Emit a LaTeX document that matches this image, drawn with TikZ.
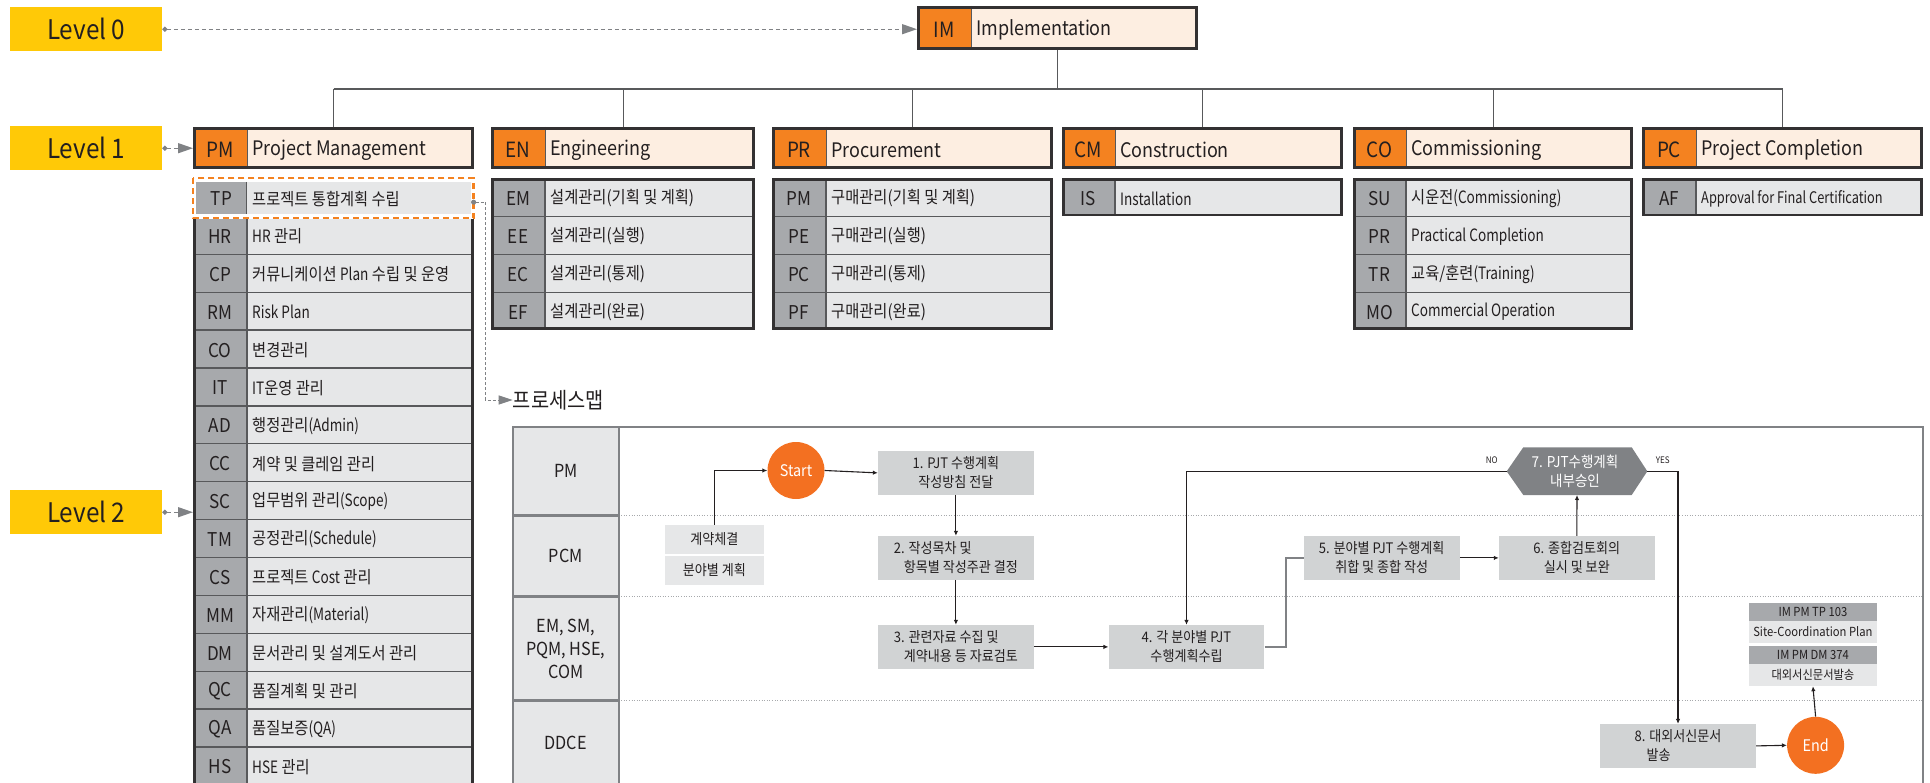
\documentclass[tikz,border=0pt]{standalone}
\usepackage{fontspec}
\setmainfont{Noto Sans CJK KR}[FakeStretch=0.9]
\newfontfamily\narrowlat{Noto Sans CJK KR}[FakeStretch=0.8]
\usetikzlibrary{arrows.meta}

\definecolor{lvlyel}{HTML}{FFC907}
\definecolor{orng}{HTML}{F48220}
\definecolor{peach}{HTML}{FDEEE1}
\definecolor{ink}{HTML}{231F20}
\definecolor{frm}{HTML}{333132}
\definecolor{sep}{HTML}{58595B}
\definecolor{codegray}{HTML}{A7A9AC}
\definecolor{rowgray}{HTML}{E6E7E8}
\definecolor{boxgray}{HTML}{D1D3D4}
\definecolor{midgray}{HTML}{808285}
\definecolor{dotgray}{HTML}{A7A9AC}
\definecolor{startorng}{HTML}{F37021}

\newcommand\fsz[2]{\fontsize{#1}{#2}\selectfont}
% narrower face for Latin runs inside list entries
\newcommand\nl[1]{{\narrowlat #1}}

\tikzset{
  lvl/.style={fill=lvlyel, inner sep=0, minimum width=152pt, minimum height=44pt,
    font=\fsz{27}{32}, text=ink},
  lvlarrow/.style={midgray, line width=1.3pt, dash pattern=on 4pt off 3pt,
    {Circle[length=5pt]}-{Triangle[length=15pt,width=10pt]}},
  bus/.style={sep, line width=1.4pt},
  codetext/.style={inner sep=0, font=\fsz{21}{25}, text=ink},
  ttltext/.style={anchor=west, inner sep=0, font=\fsz{20}{24}, text=ink},
  itemcode/.style={inner sep=0, font=\fsz{19}{23}, text=ink},
  itemtext/.style={anchor=west, inner sep=0, font=\fsz{17}{21}, text=ink},
  lanelabel/.style={inner sep=0, align=center, font=\fsz{18}{23}, text=ink},
  fbox/.style={fill=boxgray, inner sep=0, minimum width=155.7pt, minimum height=43.7pt,
    align=center, font=\fsz{14.5}{19}, text=ink},
  smallbox/.style={fill=rowgray, inner sep=0, minimum width=98.5pt, minimum height=28.7pt,
    font=\fsz{14.5}{18}, text=ink},
  terminal/.style={circle, fill=startorng, inner sep=0, minimum size=57pt,
    text=white, font=\fsz{16}{20}},
  flow/.style={ink, line width=1.1pt, -{Latex[length=5pt,width=4.5pt]}},
  glink/.style={midgray, line width=2pt},
  dochead/.style={fill=codegray, inner sep=0, minimum width=127.7pt, font=\fsz{12.5}{15}, text=ink},
  docbody/.style={fill=rowgray, inner sep=0, minimum width=127.7pt, font=\fsz{12.5}{15}, text=ink},
  tiny/.style={inner sep=0, font=\fsz{9}{11}, text=ink},
}

% title bar of a level-1 category
\newcommand\category[6]{%
  \fill[peach] (#2,127) rectangle (#3,169);
  \fill[orng] (#2,127) rectangle (#4,169);
  \draw[sep, line width=1pt] (#4,127) -- (#4,169);
  \draw[frm, line width=2.8pt] ({#2+1.4},128.4) rectangle ({#3-1.4},167.6);
  \node[inner sep=0, minimum width={(#3-#2)*1pt}, minimum height=42pt, anchor=north west] (#1) at (#2,127) {};
  \node[codetext] (#1-code) at ({(#2+#4)/2},150) {#5};
  \node[ttltext] (#1-title) at ({#4+5},150) {#6};
}

% level-2 list under a category: name, left, right, divider, rows, first index, items
\newcommand\itemlist[7]{%
  \fill[rowgray] (#2,178.5) rectangle (#3,{178.5+#5*37.9});
  \fill[codegray] (#2,178.5) rectangle (#4,{178.5+#5*37.9});
  \foreach \cd/\tx [count=\i from #6] in {#7}{%
    \ifnum\i>0 \draw[sep, line width=1.3pt] (#2,{178.5+\i*37.9}) -- (#3,{178.5+\i*37.9});\fi
    \node[itemcode] (#1-c\i) at ({(#2+#4)/2},{179.5+(\i+0.5)*37.9}) {\cd};
    \node[itemtext] (#1-t\i) at ({#4+5},{179.5+(\i+0.5)*37.9}) {\tx};
  }
  \draw[sep, line width=1.3pt] (#4,178.5) -- (#4,{178.5+#5*37.9});
  \draw[frm, line width=2.8pt] ({#2+1.4},179.9) rectangle ({#3-1.4},{177.1+#5*37.9});
  \node[inner sep=0, minimum width={(#3-#2)*1pt}, minimum height={#5*37.9*1pt}, anchor=north west] (#1) at (#2,178.5) {};
}

\begin{document}
\begin{tikzpicture}[x=1pt,y=-1pt]
\useasboundingbox (0,0) rectangle (1930,783);
\clip (0,0) rectangle (1930,783);

% ---------- level markers ----------
\node[lvl, anchor=north west] (L0) at (10,7) {Level 0};
\node[lvl, anchor=north west] (L1) at (10,126) {Level 1};
\node[lvl, anchor=north west] (L2) at (10,490) {Level 2};

% ---------- level 0 ----------
\fill[peach] (917,6) rectangle (1198,50);
\fill[orng] (917,6) rectangle (971,50);
\draw[sep, line width=1pt] (971,6) -- (971,50);
\draw[frm, line width=2.8pt] (918.4,7.4) rectangle (1196.6,48.6);
\node[inner sep=0, minimum width=281pt, minimum height=44pt, anchor=north west] (IM) at (917,6) {};
\node[codetext] (IM-code) at (944,29.5) {IM};
\node[ttltext] (IM-title) at (976,29.5) {Implementation};

% ---------- level 1 ----------
\category{PM}{193}{474}{247}{PM}{Project Management}
\category{EN}{491}{755}{545}{EN}{Engineering}
\category{PR}{772}{1053}{826}{PR}{Procurement}
\category{CM}{1062}{1343}{1115}{CM}{Construction}
\category{CO}{1353}{1633}{1406}{CO}{Commissioning}
\category{PC}{1642}{1923}{1696}{PC}{Project Completion}

% tree connectors
\coordinate (busy) at (0,89);
\draw[bus] (IM.south) -- (IM.south |- busy);
\draw[bus] (PM.north |- busy) -- (PC.north |- busy);
\foreach \n in {PM,EN,PR,CM,CO,PC} \draw[bus] (\n.north |- busy) -- (\n.north);

% ---------- level 2 ----------
\itemlist{PMl}{193}{474}{247}{17}{1}{HR/{\nl{HR} 관리}, CP/{커뮤니케이션 \nl{Plan} 수립 및 운영}, RM/{\nl{Risk Plan}}, CO/변경관리,
  IT/{\nl{IT}운영 관리}, AD/{행정관리\nl{(Admin)}}, CC/계약 및 클레임 관리, SC/{업무범위 관리\nl{(Scope)}},
  TM/{공정관리\nl{(Schedule)}}, CS/{프로젝트 \nl{Cost} 관리}, MM/{자재관리\nl{(Material)}},
  DM/문서관리 및 설계도서 관리, QC/품질계획 및 관리, QA/{품질보증\nl{(QA)}}, HS/{\nl{HSE} 관리}}
\itemlist{ENl}{491}{755}{545}{4}{0}{EM/설계관리(기획 및 계획), EE/설계관리(실행), EC/설계관리(통제), EF/설계관리(완료)}
\itemlist{PRl}{772}{1053}{826}{4}{0}{PM/구매관리(기획 및 계획), PE/구매관리(실행), PC/구매관리(통제), PF/구매관리(완료)}
\itemlist{CMl}{1062}{1343}{1115}{1}{0}{IS/{\nl{Installation}}}
\itemlist{COl}{1353}{1633}{1406}{4}{0}{SU/{시운전\nl{(Commissioning)}}, PR/{\nl{Practical Completion}},
  TR/{교육/훈련\nl{(Training)}}, MO/{\nl{Commercial Operation}}}
\itemlist{PCl}{1642}{1923}{1696}{1}{0}{AF/{\fsz{16}{19}\nl{Approval for Final Certification}}}

% highlighted first row of the PM list
\fill[white] (191.7,176.7) rectangle (475,219.3);
\fill[rowgray] (196,182) rectangle (470.7,214);
\fill[codegray] (196,182) rectangle (246.7,214);
\draw[sep, line width=1.3pt] (246.7,182) -- (246.7,214);
\node[inner sep=0, minimum width=274.7pt, minimum height=32pt, anchor=north west] (TProw) at (196,182) {};
\node[itemcode] (TP-c) at (221.3,199) {TP};
\node[itemtext] (TP-t) at (252,199) {프로젝트 통합계획 수립};
\draw[orng, line width=2.5pt, dash pattern=on 6pt off 4pt] (193,178) rectangle (473.7,218);

% level pointers
\draw[lvlarrow] (L0.east) -- (L0.east -| IM.west);
\draw[lvlarrow] (L1.east) -- (L1.east -| PM.west);
\draw[lvlarrow] (L2.east) -- (L2.east -| PMl.west);

% ---------- process map ----------
\node[anchor=west, inner sep=0, font=\fsz{22}{26}, text=ink] (pmap) at (512.7,400) {프로세스맵};
\draw[midgray, line width=1pt, dash pattern=on 3pt off 2pt,
  {Circle[length=5pt]}-{Triangle[length=14pt,width=9pt]}]
  ([yshift=-4pt]TProw.east) -- ++(14.3,0) |- (pmap.west);

% swimlane frame
\fill[rowgray] (513,426.7) rectangle (618.5,792);
\foreach \yy in {515.7,596.7,700.7}{
  \draw[midgray, line width=2.5pt] (513,\yy) -- (618.5,\yy);
  \draw[dotgray, line width=1pt, dash pattern=on 1pt off 1.6pt] (618.5,\yy) -- (1922.6,\yy);
}
\draw[midgray, line width=2pt] (618.5,426.7) -- (618.5,792);
\draw[midgray, line width=2pt] (513,426.7) rectangle (1922.6,792);

\node[lanelabel] (lane1) at (565.7,471) {PM};
\node[lanelabel] (lane2) at (565.7,555.7) {PCM};
\node[lanelabel] (lane3) at (565.7,649) {EM, SM,\\PQM, HSE,\\COM};
\node[lanelabel] (lane4) at (565.7,742.7) {DDCE};

% steps
\node[smallbox] (kc) at (714.3,539.3) {계약체결};
\node[smallbox] (plan) at (714.3,570.3) {분야별 계획};
\node[terminal] (start) at (796,470.5) {Start};
\node[fbox] (b1) at (955.9,472.9) {1. PJT 수행계획\\작성방침 전달};
\node[fbox, align=left] (b2) at (955.9,557.9) {2. 작성목차 및\\\hspace*{10pt}항목별 작성주관 결정};
\node[fbox, align=left] (b3) at (955.9,646.9) {3. 관련자료 수집 및\\\hspace*{10pt}계약내용 등 자료검토};
\node[fbox] (b4) at (1186.5,646.9) {4. 각 분야별 PJT\\수행계획수립};
\node[fbox] (b5) at (1381.7,557.9) {5. 분야별 PJT 수행계획\\취합 및 종합 작성};
\node[fbox] (b6) at (1576.8,557.9) {6. 종합검토회의\\실시 및 보완};
\node[fbox, align=left] (b8) at (1678,745.9) {8. 대외서신문서\\\hspace*{12pt}발송};
\node[terminal] (end) at (1815.6,745.3) {End};

% decision
\coordinate (h7w) at (1506.7,471.3);
\coordinate (h7e) at (1647.3,471.3);
\coordinate (h7s) at (1577,495);
\fill[midgray] (h7w) -- (1523.3,447.3) -- (1631.7,447.3) -- (h7e) -- (1631.7,495) -- (1523.3,495) -- cycle;
\node[inner sep=0, align=center, text=white, font=\fsz{15}{19}] (h7) at (1575,471.3) {7. PJT수행계획\\내부승인};
\node[tiny] (no) at (1491.7,460.7) {NO};
\node[tiny] (yes) at (1662.7,460.7) {YES};

% output documents
\node[dochead, minimum height=18pt] (d1h) at (1812.9,612) {IM PM TP 103};
\node[docbody, minimum height=21.7pt] (d1b) at (1812.9,631.9) {Site-Coordination Plan};
\node[dochead, minimum height=17.7pt] (d2h) at (1812.9,654.9) {IM PM DM 374};
\node[docbody, minimum height=22.3pt] (d2b) at (1812.9,674.9) {대외서신문서발송};

% flow
\draw[flow] (kc.north) |- (start.west);
\draw[flow] (start.east) -- (b1.west);
\draw[flow] (b1.south) -- (b2.north);
\draw[flow] (b2.south) -- (b3.north);
\draw[flow] (b3.east) -- (b4.west);
\draw[glink] (b4.east) -- ++(21.5,0) |- (b5.west);
\draw[flow] (b5.east) -- (b6.west);
\draw[flow] (b6.north) -- (h7s);
\draw[flow] (h7w) -| (b4.north);
\draw[flow] (h7e) -| (b8.north);
\draw[flow] (b8.east) -- (end.west);
\draw[flow] (end.north) -- (d2b.south);
\end{tikzpicture}
\end{document}
